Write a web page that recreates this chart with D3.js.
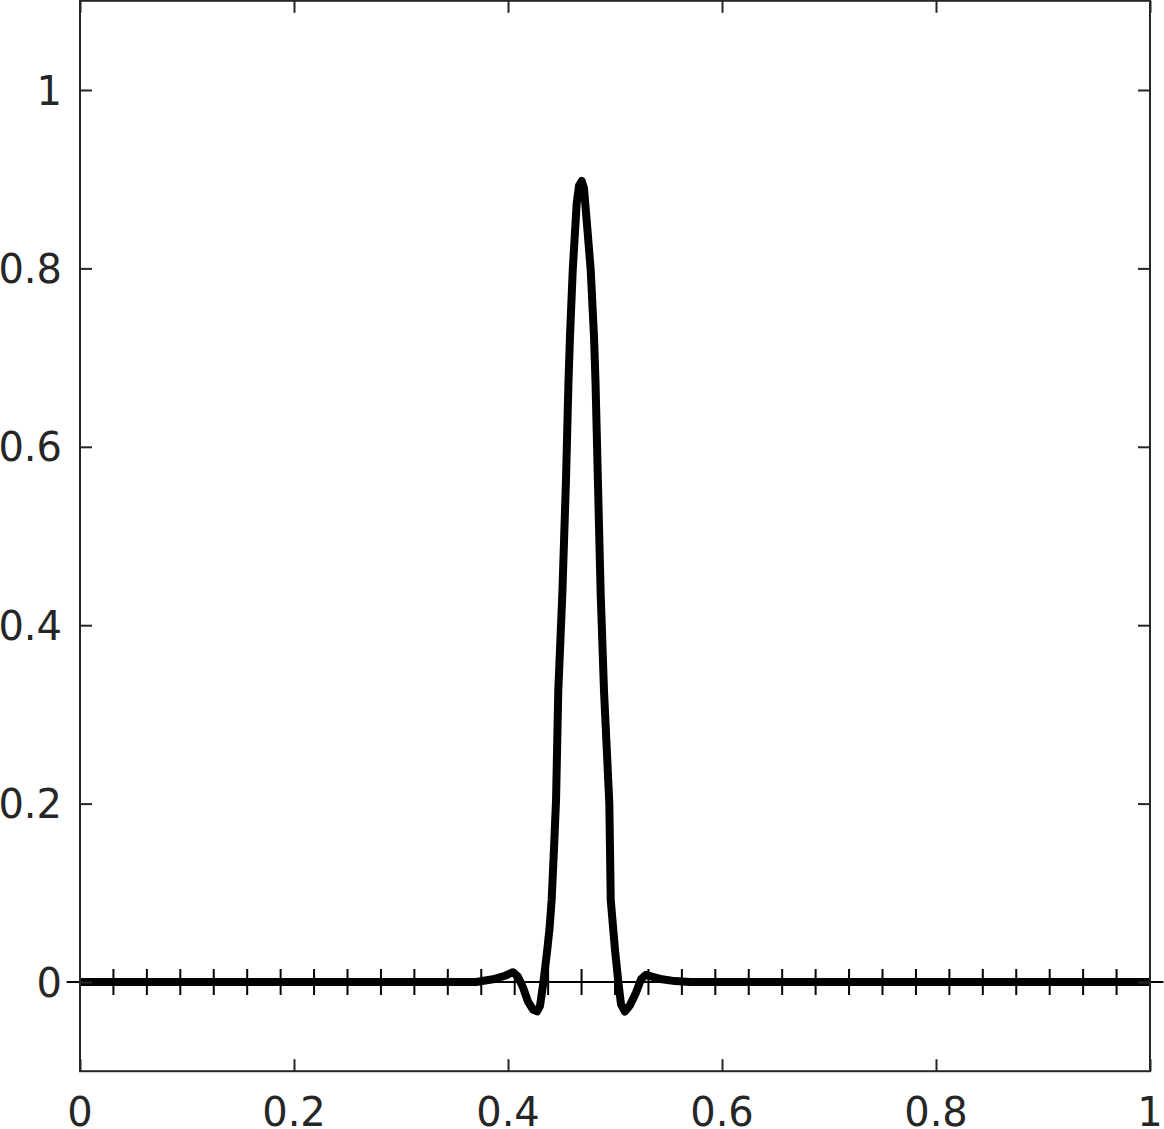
<!DOCTYPE html>
<html>
<head>
<meta charset="utf-8">
<script src="https://cdn.jsdelivr.net/npm/d3@7"></script>
<style>
  html, body { margin: 0; padding: 0; background: #fff; }
  svg { display: block; }
  text { font-family: "DejaVu Sans", sans-serif; fill: #262626; }
</style>
</head>
<body>
<svg id="chart" width="1164" height="1129"></svg>
<script>
// ---- data ----
const xValues = [0, 0.3701, 0.3860, 0.3972, 0.4047, 0.4093, 0.4140, 0.4187, 0.4234, 0.4271, 0.4299,
  0.4330, 0.4367, 0.4388, 0.4408, 0.4430, 0.4449, 0.4470, 0.4508, 0.4542, 0.4565, 0.4579, 0.4605,
  0.4642, 0.4664, 0.4689, 0.4710, 0.4738, 0.4773, 0.4804, 0.4818, 0.4840, 0.4866, 0.4897, 0.4947,
  0.4960, 0.5000, 0.5031, 0.5056, 0.5093, 0.5140, 0.5196, 0.5243, 0.5290, 0.5346, 0.5439, 0.5561,
  0.5701, 1];
const yValues = [0, 0, 0.003, 0.007, 0.011, 0.006, -0.006, -0.022, -0.031, -0.033, -0.027,
  -0.001, 0.036, 0.060, 0.092, 0.150, 0.204, 0.327, 0.436, 0.563, 0.672, 0.723, 0.798,
  0.873, 0.893, 0.898, 0.890, 0.850, 0.798, 0.723, 0.672, 0.563, 0.436, 0.327, 0.200,
  0.092, 0.036, 0.000, -0.025, -0.033, -0.026, -0.012, 0.003, 0.008, 0.006, 0.003, 0.001,
  0, 0];
const xTicks = [0, 0.2, 0.4, 0.6, 0.8, 1];
const yTicks = [0, 0.2, 0.4, 0.6, 0.8, 1];
const xTickLabels = ["0", "0.2", "0.4", "0.6", "0.8", "1"];
const yTickLabels = ["0", "0.2", "0.4", "0.6", "0.8", "1"];
const gridNodes = d3.range(1, 32).map(k => k / 32);   // marks on the zero line
const baselineExtent = [-0.0125, 1.0125];
const xDomain = [0, 1];
const yDomain = [-0.1, 1.1];

// ---- layout ----
const padL = 80, padR = 1150, padT = 0.8, padB = 1071.2;
const svg = d3.select("#chart");
const x = d3.scaleLinear().domain(xDomain).range([padL, padR]);
const y = d3.scaleLinear().domain(yDomain).range([padB, padT]);
const axisColor = "#262626";
const fontSize = 40;

// zero line (thin)
svg.append("line")
  .attr("x1", x(baselineExtent[0])).attr("x2", x(baselineExtent[1]))
  .attr("y1", y(0)).attr("y2", y(0))
  .attr("stroke", "#000").attr("stroke-width", 2);

// node marks on zero line
svg.append("g").selectAll("line").data(gridNodes).join("line")
  .attr("x1", d => x(d)).attr("x2", d => x(d))
  .attr("y1", y(0) - 13).attr("y2", y(0) + 13)
  .attr("stroke", "#000").attr("stroke-width", 2);

// curve
const pts = xValues.map((v, i) => [v, yValues[i]]);
svg.append("path")
  .datum(pts)
  .attr("d", d3.line().x(d => x(d[0])).y(d => y(d[1])))
  .attr("fill", "none")
  .attr("stroke", "#000")
  .attr("stroke-width", 8)
  .attr("stroke-linejoin", "round")
  .attr("stroke-linecap", "butt");

// axes
const tickLen = 12;
const gAx = svg.append("g");
const axBottom = d3.axisBottom(x).tickValues(xTicks).tickSize(-tickLen).tickFormat("");
const axTop = d3.axisTop(x).tickValues(xTicks).tickSize(-tickLen).tickFormat("");
const axLeft = d3.axisLeft(y).tickValues(yTicks).tickSize(-tickLen).tickFormat("");
const axRight = d3.axisRight(y).tickValues(yTicks).tickSize(-tickLen).tickFormat("");
gAx.append("g").attr("transform", `translate(0,${padB})`).call(axBottom);
gAx.append("g").attr("transform", `translate(0,${padT})`).call(axTop);
gAx.append("g").attr("transform", `translate(${padL},0)`).call(axLeft);
gAx.append("g").attr("transform", `translate(${padR},0)`).call(axRight);
gAx.selectAll(".domain").remove();
gAx.selectAll(".tick line").attr("stroke", axisColor).attr("stroke-width", 2);

// frame
svg.append("rect")
  .attr("x", padL).attr("y", padT)
  .attr("width", padR - padL).attr("height", padB - padT)
  .attr("fill", "none").attr("stroke", axisColor).attr("stroke-width", 2);

// tick labels
svg.append("g").selectAll("text").data(xTicks).join("text")
  .attr("x", d => x(d)).attr("y", padB + 55)
  .attr("text-anchor", "middle")
  .attr("font-size", fontSize)
  .text((d, i) => xTickLabels[i]);

svg.append("g").selectAll("text").data(yTicks).join("text")
  .attr("x", padL - 18).attr("y", d => y(d))
  .attr("dy", "0.3645em")
  .attr("text-anchor", "end")
  .attr("font-size", fontSize)
  .text((d, i) => yTickLabels[i]);
</script>
</body>
</html>
